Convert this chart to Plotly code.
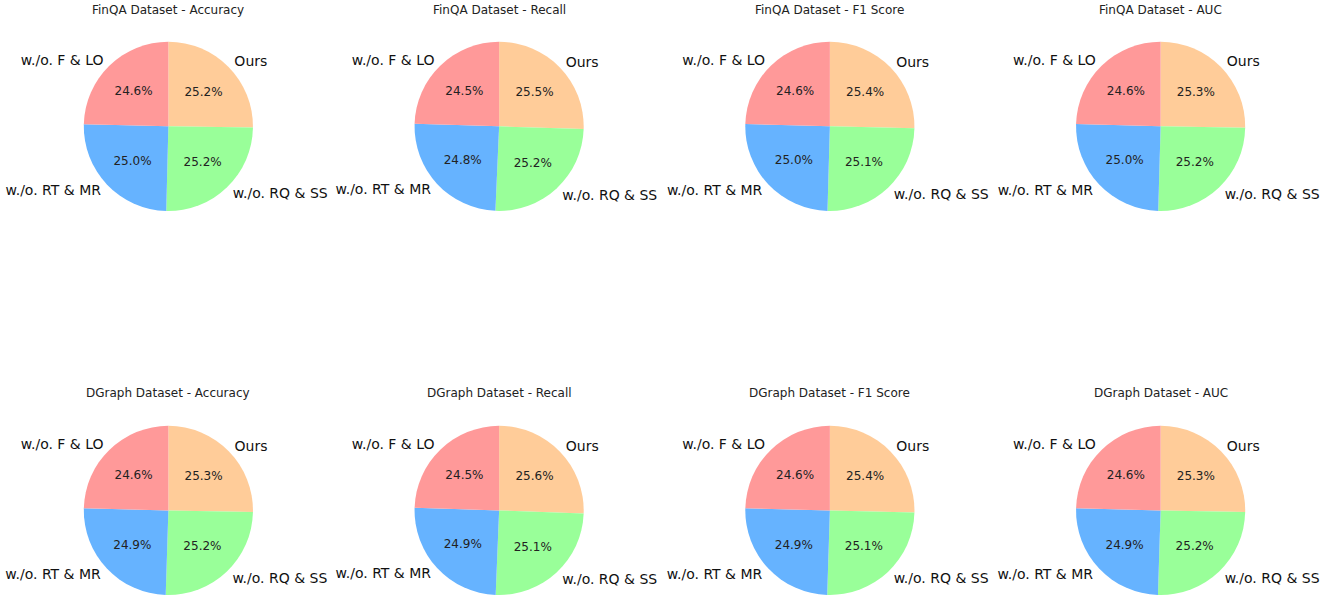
import plotly.graph_objects as go

# slice order as in the source: counterclockwise from 12 o'clock
methods = ['w./o. F & LO', 'w./o. RT & MR', 'w./o. RQ & SS', 'Ours']
colors = ['#ff9999', '#66b3ff', '#99ff99', '#ffcc99']

datasets = ['FinQA', 'DGraph']
metrics = ['Accuracy', 'Recall', 'F1 Score', 'AUC']

finqa_accuracy = [24.6, 25.0, 25.2, 25.2]
finqa_recall = [24.5, 24.8, 25.2, 25.5]
finqa_f1 = [24.6, 25.0, 25.1, 25.4]
finqa_auc = [24.6, 25.0, 25.2, 25.3]

dgraph_accuracy = [24.6, 24.9, 25.2, 25.3]
dgraph_recall = [24.5, 24.9, 25.1, 25.6]
dgraph_f1 = [24.6, 24.9, 25.1, 25.4]
dgraph_auc = [24.6, 24.9, 25.2, 25.3]

values = {
    'FinQA': [finqa_accuracy, finqa_recall, finqa_f1, finqa_auc],
    'DGraph': [dgraph_accuracy, dgraph_recall, dgraph_f1, dgraph_auc],
}

W, H = 1325, 603
R = 85
col_cx = [166, 498, 830, 1162]
row_cy = [127, 513]
title_y = [10, 395]


def dom(cx, cy, r):
    return dict(x=[(cx - r) / W, (cx + r) / W],
                y=[max(0, 1 - (cy + r) / H), min(1, 1 - (cy - r) / H)])


# plotly draws clockwise from 12 o'clock, so feed the slices reversed
labels_cw = methods[::-1]
colors_cw = colors[::-1]

fig = go.Figure()
annotations = []

for i, ds in enumerate(datasets):
    for j, metric in enumerate(metrics):
        vals = values[ds][j][::-1]
        cx, cy = col_cx[j], row_cy[i]

        # coloured slices with percentages inside
        fig.add_trace(go.Pie(
            labels=labels_cw, values=vals, sort=False,
            direction='clockwise', rotation=0,
            marker=dict(colors=colors_cw, line=dict(width=0)),
            texttemplate='%{percent:.1%}', textposition='inside',
            insidetextorientation='horizontal',
            textfont=dict(family='DejaVu Sans', size=12, color='#222222'),
            domain=dom(cx, cy, R), showlegend=False, hoverinfo='label+percent',
        ))
        # transparent copy carrying the outside labels
        fig.add_trace(go.Pie(
            labels=labels_cw, values=vals, sort=False,
            direction='clockwise', rotation=0,
            marker=dict(colors=['rgba(0,0,0,0)'] * 4, line=dict(width=0)),
            texttemplate='%{label}', textposition='outside',
            textfont=dict(family='DejaVu Sans', size=14, color='#111111'),
            domain=dom(cx, cy, R * 1.03), showlegend=False, hoverinfo='skip',
        ))

        annotations.append(dict(
            text=f'{ds} Dataset - {metric}', x=cx / W, y=1 - title_y[i] / H,
            xref='paper', yref='paper', showarrow=False,
            xanchor='center', yanchor='middle',
            font=dict(family='DejaVu Sans', size=12, color='#222222'),
        ))

fig.update_layout(
    width=W, height=H,
    margin=dict(l=0, r=0, t=0, b=0),
    paper_bgcolor='white', plot_bgcolor='white',
    annotations=annotations,
)

fig.write_html('out.html', config={'displayModeBar': False},
               post_script="document.body.style.margin='0';")
